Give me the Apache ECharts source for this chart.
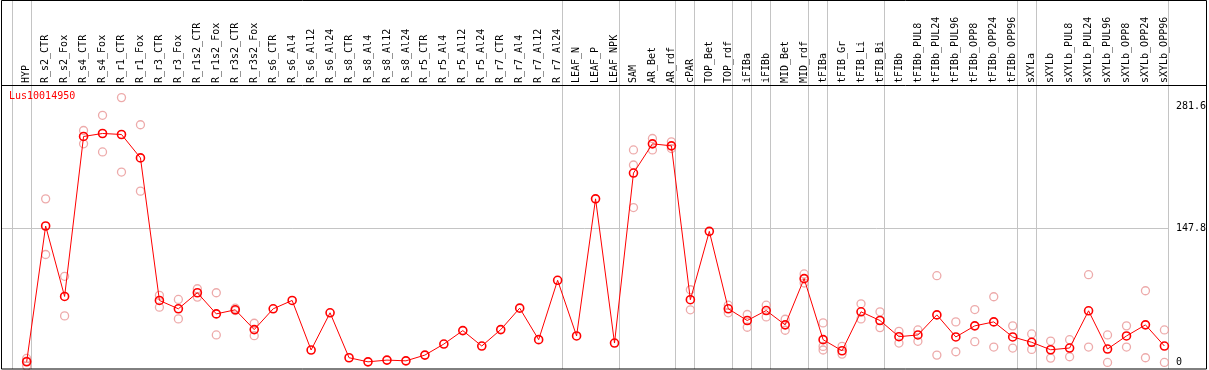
<!DOCTYPE html>
<html>
<head>
<meta charset="utf-8">
<script src="https://cdn.jsdelivr.net/npm/echarts@6/dist/echarts.min.js"></script>
<style>
html,body{margin:0;padding:0;background:#fff;}
#chart{width:1209px;height:370px;}
</style>
</head>
<body>
<div id="chart"></div>
<script>
const title = 'Lus10014950';
const categories = ['HYP','R_s2_CTR','R_s2_Fox','R_s4_CTR','R_s4_Fox','R_r1_CTR','R_r1_Fox','R_r3_CTR','R_r3_Fox','R_r1s2_CTR','R_r1s2_Fox','R_r3s2_CTR','R_r3s2_Fox','R_s6_CTR','R_s6_Al4','R_s6_Al12','R_s6_Al24','R_s8_CTR','R_s8_Al4','R_s8_Al12','R_s8_Al24','R_r5_CTR','R_r5_Al4','R_r5_Al12','R_r5_Al24','R_r7_CTR','R_r7_Al4','R_r7_Al12','R_r7_Al24','LEAF_N','LEAF_P','LEAF_NPK','SAM','AR_Bet','AR_rdf','cPAR','TOP_Bet','TOP_rdf','iFIBa','iFIBb','MID_Bet','MID_rdf','tFIBa','tFIB_Gr','tFIB_Li','tFIB_Bi','tFIBb','tFIBb_PUL8','tFIBb_PUL24','tFIBb_PUL96','tFIBb_OPP8','tFIBb_OPP24','tFIBb_OPP96','sXYLa','sXYLb','sXYLb_PUL8','sXYLb_PUL24','sXYLb_PUL96','sXYLb_OPP8','sXYLb_OPP24','sXYLb_OPP96'];
const means = [0.8,150.3,72.7,248.9,252.2,251.1,225.3,68.3,59.1,76.8,53.5,58.0,36.2,59.1,68.3,13.7,54.7,5.2,0.7,2.6,1.8,8.1,20.3,35.1,18.1,36.2,59.8,25.1,90.5,29.2,180.2,21.4,208.6,240.8,238.6,69.1,144.4,59.1,46.2,57.2,41.4,92.3,25.1,12.9,55.8,46.2,28.4,30.3,52.4,28.1,40.3,44.7,28.1,22.2,14.0,15.9,56.9,14.8,29.2,41.4,18.1];
const repHigh = [4.4,180.2,94.9,255.5,272.2,291.7,261.8,73.9,69.4,81.2,76.8,59.8,43.2,null,null,null,null,null,null,null,null,null,null,null,null,null,null,null,null,null,null,null,234.1,246.7,243.0,80.1,null,63.1,52.8,63.1,47.6,97.5,43.6,17.7,64.6,55.8,34.3,35.8,95.6,44.7,58.3,72.4,40.3,31.4,23.6,25.1,96.7,30.3,40.3,79.0,35.8];
const repLow = [-4.0,118.9,51.3,240.8,231.9,209.7,188.7,60.9,48.0,72.0,30.3,57.2,29.5,null,null,null,null,null,null,null,null,null,null,null,null,null,null,null,null,null,null,null,170.6,234.1,235.6,58.0,null,54.7,38.8,50.2,35.5,87.5,13.7,9.2,48.0,38.4,21.4,23.3,8.1,11.8,22.9,17.0,15.9,14.4,4.8,6.3,17.0,0.0,17.0,5.2,0.0];
const repMid = [1.5,null,null,null,null,null,null,null,null,null,null,null,null,null,null,null,null,null,null,null,null,null,null,null,null,null,null,null,null,null,null,null,217.5,null,null,null,null,null,null,null,null,null,17.7,null,null,null,null,null,null,null,null,null,null,null,null,null,null,null,null,null,null];
const separatorAfter = ['HYP','R_r7_Al24','LEAF_NPK','AR_rdf','cPAR','TOP_rdf','iFIBa','iFIBb','MID_rdf','tFIBa','tFIB_Bi','tFIBb_OPP96','sXYLa','sXYLb_OPP96'];
const yTicks = [0, 147.8, 281.6];
const gridValue = 147.8;

const FONT = 'DejaVu Sans Mono';
const RED = '#ff0000';
const PINK = '#e99595';
const GRAY = '#c4c4c4';
const CLEAR = 'rgba(0,0,0,0)';

const repPoints = [];
[repHigh, repLow, repMid].forEach(arr => arr.forEach((v, i) => { if (v !== null) repPoints.push([i, v]); }));

// separator data: [x-dummy, y-dummy, category index]; -1 = line before first category
const sepData = [[0, 0, -1]].concat(separatorAfter.map(n => [0, 0, categories.indexOf(n)]));
const lastSepIndex = categories.indexOf(separatorAfter[separatorAfter.length - 1]);

const chart = echarts.init(document.getElementById('chart'), null, {renderer: 'canvas'});
chart.setOption({
  animation: false,
  backgroundColor: '#fff',
  title: {
    text: title, left: 9, top: 91, padding: 0,
    textStyle: {color: RED, fontFamily: FONT, fontSize: 10, fontWeight: 'normal'}
  },
  grid: {left: 17.2, right: 32.8, top: 85, height: 284, containLabel: false},
  xAxis: {
    type: 'category', data: categories, position: 'top', boundaryGap: true,
    axisLine: {show: false}, axisTick: {show: false}, splitLine: {show: false},
    axisLabel: {interval: 0, rotate: 90, margin: 2, color: '#000', fontFamily: FONT, fontSize: 10}
  },
  yAxis: {
    type: 'value', position: 'right', min: -7.2, max: 305.6,
    axisLine: {show: false}, axisTick: {show: false}, splitLine: {show: false},
    axisLabel: {customValues: yTicks, margin: 2, color: '#000', fontFamily: FONT, fontSize: 10,
      formatter: v => String(v)}
  },
  graphic: [
    {type: 'rect', shape: {x: 1.5, y: 0.5, width: 1205, height: 368.5}, style: {fill: 'none', stroke: '#000', lineWidth: 1}, z: 100},
    {type: 'line', shape: {x1: 1, y1: 85.5, x2: 1207, y2: 85.5}, style: {stroke: '#000', lineWidth: 1}, z: 100}
  ],
  series: [
    {
      type: 'custom', name: 'separators', data: sepData, encode: {x: 0, y: 1}, clip: false, z: 1, silent: true,
      renderItem: function (params, api) {
        const idx = api.value(2);
        const c0 = api.coord([0, 0])[0];
        const bw = api.size([1, 0])[0];
        const x = Math.round(c0 + idx * bw + 4) + 0.5;
        return {type: 'line', shape: {x1: x, y1: 0, x2: x, y2: 369}, style: {stroke: GRAY, lineWidth: 1}};
      }
    },
    {
      type: 'custom', name: 'gridline', data: [[0, gridValue]], encode: {x: 0, y: 1}, clip: false, z: 1, silent: true,
      renderItem: function (params, api) {
        const y = Math.round(api.coord([0, api.value(1)])[1]) + 0.5;
        const c0 = api.coord([0, 0])[0];
        const bw = api.size([1, 0])[0];
        const x2 = Math.round(c0 + lastSepIndex * bw + 4) + 0.5;
        return {type: 'line', shape: {x1: 1, y1: y, x2: x2, y2: y}, style: {stroke: GRAY, lineWidth: 1}};
      }
    },
    {
      type: 'scatter', name: 'replicates', data: repPoints, symbol: 'circle', symbolSize: 8, z: 2,
      itemStyle: {color: CLEAR, borderColor: PINK, borderWidth: 1.3}
    },
    {
      type: 'line', name: 'mean', data: means, symbol: 'circle', symbolSize: 8, z: 3,
      lineStyle: {color: RED, width: 1},
      itemStyle: {color: CLEAR, borderColor: RED, borderWidth: 1.6}
    }
  ]
});
</script>
</body>
</html>
